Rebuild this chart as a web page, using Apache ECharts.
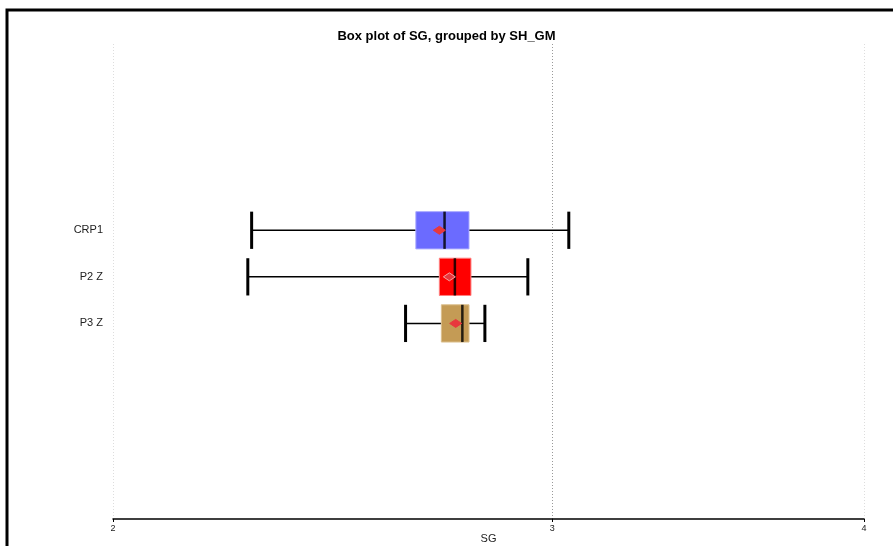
<!DOCTYPE html>
<html>
<head>
<meta charset="utf-8">
<script src="https://cdn.jsdelivr.net/npm/echarts@6/dist/echarts.min.js"></script>
<style>html,body{margin:0;padding:0;background:#fff;}#chart{width:893px;height:546px;}</style>
</head>
<body>
<div id="chart"></div>
<script>
// ---- data ----
const categories = ['CRP1', 'P2 Z', 'P3 Z'];
const positions = [1, 2, 3];
const whiskerLow = [2.273, 2.265, 2.620];
const q1Values = [2.645, 2.703, 2.708];
const medianValues = [2.716, 2.742, 2.761];
const q3Values = [2.778, 2.783, 2.778];
const whiskerHigh = [3.046, 2.933, 2.819];
const meanValues = [2.703, 2.728, 2.744];
const xTicks = [2, 3, 4];

// ---- styles ----
const boxFill = ['#6B6BFF', '#FF0000', '#C49B55'];
const boxStroke = ['#A9A9FF', '#FF7F7F', '#DCC08E'];
const meanStroke = ['#E8383D', '#F6A3A3', '#E8383D'];

const seriesData = categories.map((c, i) => [positions[i], whiskerLow[i], q1Values[i], medianValues[i], q3Values[i], whiskerHigh[i], meanValues[i]]);

function renderItem(params, api) {
  const i = params.dataIndex;
  const y = api.value(0);
  const lo = api.value(1), q1 = api.value(2), med = api.value(3), q3 = api.value(4), hi = api.value(5), mean = api.value(6);
  const c = (x, yy) => api.coord([x, yy]);
  const half = 0.4;
  const pLo = c(lo, y), pQ1 = c(q1, y), pMed = c(med, y), pQ3 = c(q3, y), pHi = c(hi, y), pMean = c(mean, y);
  const top = c(lo, y - half)[1], bot = c(lo, y + half)[1];
  const cy = pLo[1];
  const children = [];
  children.push({ type: 'line', shape: { x1: pLo[0], y1: cy, x2: pQ1[0], y2: cy }, style: { stroke: '#000', lineWidth: 1.5 } });
  children.push({ type: 'line', shape: { x1: pQ3[0], y1: cy, x2: pHi[0], y2: cy }, style: { stroke: '#000', lineWidth: 1.5 } });
  children.push({ type: 'line', shape: { x1: pLo[0], y1: top, x2: pLo[0], y2: bot }, style: { stroke: '#000', lineWidth: 3 } });
  children.push({ type: 'line', shape: { x1: pHi[0], y1: top, x2: pHi[0], y2: bot }, style: { stroke: '#000', lineWidth: 3 } });
  children.push({ type: 'rect', shape: { x: pQ1[0], y: top, width: pQ3[0] - pQ1[0], height: bot - top }, style: { fill: boxFill[i], stroke: boxStroke[i], lineWidth: 1 } });
  children.push({ type: 'line', shape: { x1: pMed[0], y1: top, x2: pMed[0], y2: bot }, style: { stroke: 'rgba(0,0,0,0.82)', lineWidth: 2.5 } });
  const mx = pMean[0], dw = 6, dh = 4;
  children.push({ type: 'polygon', shape: { points: [[mx - dw, cy], [mx, cy - dh], [mx + dw, cy], [mx, cy + dh]] }, style: { fill: '#E8383D', stroke: meanStroke[i], lineWidth: 1 } });
  return { type: 'group', children };
}

const chart = echarts.init(document.getElementById('chart'), null, { renderer: 'canvas' });
chart.setOption({
  animation: false,
  backgroundColor: '#fff',
  title: {
    text: 'Box plot of SG, grouped by SH_GM',
    left: 'center', top: 25,
    textStyle: { fontFamily: 'Liberation Sans', fontSize: 13, fontWeight: 'bold', color: '#000' }
  },
  grid: { left: 113, right: 29, top: 44, bottom: 27, outerBoundsMode: 'none', containLabel: false },
  xAxis: {
    type: 'log', logBase: 2, min: 2, max: 4,
    name: 'SG', nameLocation: 'middle', nameGap: 14, nameMoveOverlap: false,
    nameTextStyle: { fontFamily: 'Liberation Sans', fontSize: 11, color: '#222' },
    axisLine: { show: true, onZero: false, lineStyle: { color: '#000', width: 1.5 } },
    axisTick: { show: true, length: 3, lineStyle: { color: '#000' }, customValues: xTicks },
    axisLabel: { fontFamily: 'Liberation Sans', fontSize: 9, color: '#222', margin: 5, customValues: xTicks, formatter: v => String(Math.round(v)) },
    splitLine: { show: true, lineStyle: { type: [1, 2], color: ['#dddddd', '#999999', '#dddddd'], width: 1 } },
    minorTick: { show: false }, minorSplitLine: { show: false }
  },
  yAxis: {
    type: 'value', inverse: true, min: -3, max: 7.2,
    axisLine: { show: false }, axisTick: { show: false }, splitLine: { show: false },
    axisLabel: {
      fontFamily: 'Liberation Sans', fontSize: 11, color: '#222', margin: 10,
      customValues: positions,
      formatter: v => { const k = positions.indexOf(Math.round(v)); return k >= 0 ? categories[k] : ''; }
    }
  },
  series: [{
    type: 'custom',
    renderItem: renderItem,
    encode: { x: [1, 2, 3, 4, 5, 6], y: 0 },
    data: seriesData,
    clip: false
  }],
  graphic: [{
    type: 'polyline',
    shape: { points: [[7, 546], [7, 10], [893, 10]] },
    style: { stroke: '#000', lineWidth: 3, fill: null },
    z: 100
  }]
});
</script>
</body>
</html>
